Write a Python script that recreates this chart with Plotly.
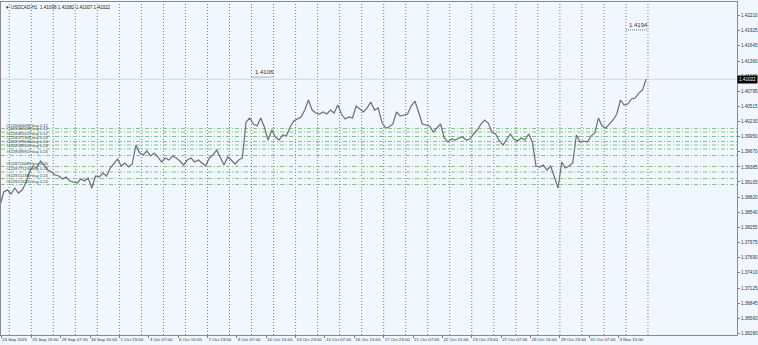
import plotly.graph_objects as go

# ---------------- data ----------------
symbol_title = "▼ USDCAD,H1  1.41008 1.41082 1.41007 1.41022"

bar_start = -34   # bar index of first sample (0 = 25 Sep 23:00)
bar_step = 4      # hours between samples
close_prices = [
    1.38674, 1.38916, 1.38953, 1.38879, 1.38991, 1.38897, 1.38953, 1.39084, 1.39290, 1.39401,
    1.39364, 1.39495, 1.39420, 1.39327, 1.39290, 1.39234, 1.39215, 1.39159, 1.39196, 1.39122,
    1.39103, 1.39084, 1.39159, 1.39122, 1.39178, 1.38991, 1.39215, 1.39196, 1.39271, 1.39215,
    1.39364, 1.39457, 1.39532, 1.39401, 1.39457, 1.39383, 1.39439, 1.39793, 1.39644, 1.39607,
    1.39681, 1.39588, 1.39644, 1.39569, 1.39476, 1.39551, 1.39513, 1.39588, 1.39551, 1.39495,
    1.39420, 1.39513, 1.39551, 1.39476, 1.39513, 1.39457, 1.39401, 1.39551, 1.39607, 1.39700,
    1.39569, 1.39420, 1.39569, 1.39513, 1.39439, 1.39513, 1.39551, 1.40222, 1.40297, 1.40185,
    1.40148, 1.40297, 1.40129, 1.39886, 1.40073, 1.39943, 1.39886, 1.39980, 1.39961, 1.40129,
    1.40241, 1.40278, 1.40316, 1.40446, 1.40633, 1.40446, 1.40390, 1.40372, 1.40409, 1.40372,
    1.40446, 1.40390, 1.40540, 1.40372, 1.40278, 1.40316, 1.40297, 1.40521, 1.40465, 1.40409,
    1.40485, 1.40595, 1.40446, 1.40485, 1.40222, 1.40110, 1.40129, 1.40185, 1.40409, 1.40334,
    1.40353, 1.40372, 1.40521, 1.40614, 1.40409, 1.40185, 1.40166, 1.40148, 1.40036, 1.40110,
    1.40185, 1.39924, 1.39849, 1.39905, 1.39886, 1.39924, 1.39943, 1.39886, 1.39905, 1.39999,
    1.40073, 1.40185, 1.40260, 1.40204, 1.40036, 1.39999, 1.39868, 1.39793, 1.39886, 1.39999,
    1.39905, 1.39868, 1.39924, 1.39886, 1.39999, 1.39849, 1.39401, 1.39383, 1.39420, 1.39327,
    1.39401, 1.39178, 1.38991, 1.39476, 1.39364, 1.39401, 1.39457, 1.39980, 1.39849, 1.39868,
    1.39849, 1.39961, 1.40017, 1.40297, 1.40148, 1.40110, 1.40185, 1.40260, 1.40372, 1.40633,
    1.40540, 1.40558, 1.40652, 1.40670, 1.40763, 1.40820, 1.41025,
]

bid_price = 1.41022

order_prices = [1.40101, 1.40036, 1.39952, 1.39859, 1.39794, 1.39719,
                1.39598, 1.39392, 1.39290, 1.39168, 1.39056]
order_labels = ["#1228466096 buy 0.12", "#1228466098 buy 0.12", "#1228461015 buy 0.12",
                "#1228572368 buy 0.24", "#1228579046 buy 0.24", "#1228589503 buy 0.24",
                "#1228589903 buy 0.24", "#1228720089 buy 0.24", "#1228771234 buy 0.24",
                "#1229152380 buy 0.24", "#1229153201 buy 0.24"]

level_prices = [1.4106, 1.4194]
level_start_bars = [240, 648]
level_end_bars = [264, 672]

tick_bars = [-32.9, 0, 32, 64, 96, 128, 160, 192, 224, 256, 288, 320, 352, 384,
             416, 448, 480, 512, 544, 576, 608, 640]
tick_labels = ["24 Sep 2025", "25 Sep 23:00", "29 Sep 07:00", "30 Sep 15:00", "1 Oct 23:00",
               "3 Oct 07:00", "6 Oct 15:00", "7 Oct 23:00", "9 Oct 07:00", "10 Oct 15:00",
               "13 Oct 23:00", "15 Oct 07:00", "16 Oct 15:00", "17 Oct 23:00", "21 Oct 07:00",
               "22 Oct 15:00", "23 Oct 23:00", "27 Oct 07:00", "28 Oct 15:00", "29 Oct 23:00",
               "31 Oct 07:00", "3 Nov 15:00"]

price_ticks = [1.42210, 1.41925, 1.41645, 1.41360, 1.41080, 1.40795, 1.40515, 1.40230,
               1.39950, 1.39670, 1.39385, 1.39105, 1.38820, 1.38540, 1.38255, 1.37975,
               1.37690, 1.37410, 1.37125, 1.36845, 1.36560, 1.36280]

# ---------------- figure ----------------
X_MIN, X_MAX = -33, 769
Y_MIN, Y_MAX = 1.36248, 1.42462
BG = "#F0F7FF"
FONT = "Liberation Sans"

bars = [bar_start + bar_step * k for k in range(len(close_prices))]

fig = go.Figure()

# vertical dotted grid (every 24 bars, only where bars exist)
for b in range(-24, bars[-1] + 3, 24):
    fig.add_shape(type="line", xref="x", yref="paper", x0=b, x1=b, y0=0, y1=1,
                  line=dict(color="#7A7A7A", width=1, dash="1px,2px"), layer="below")

# bid line
fig.add_trace(go.Scatter(x=[X_MIN, X_MAX], y=[bid_price, bid_price], mode="lines",
                         line=dict(color="#D2D6DC", width=1), hoverinfo="skip"))

# order lines
for p in order_prices:
    fig.add_trace(go.Scatter(x=[X_MIN, X_MAX], y=[p, p], mode="lines",
                             line=dict(color="#86C486", width=1, dash="4px,2px,1px,2px"),
                             hoverinfo="skip"))

# price line
fig.add_trace(go.Scatter(x=bars, y=close_prices, mode="lines",
                         line=dict(color="#6E6E6E", width=1.2)))

# level markers
for p, b0, b1 in zip(level_prices, level_start_bars, level_end_bars):
    fig.add_trace(go.Scatter(x=[b0, b1], y=[p, p], mode="lines",
                             line=dict(color="#707070", width=1, dash="1px,1px"),
                             hoverinfo="skip"))
    fig.add_annotation(x=b0, y=p, xref="x", yref="y", text=f"{p:.4f}", showarrow=False,
                       xanchor="left", yanchor="bottom", xshift=1, yshift=0,
                       font=dict(family=FONT, size=6, color="#333333"))

# order labels
for p, t in zip(order_prices, order_labels):
    fig.add_annotation(x=X_MIN, y=p, xref="x", yref="y", text=t, showarrow=False,
                       xanchor="left", yanchor="bottom", xshift=3, yshift=-1,
                       font=dict(family=FONT, size=4.1, color="#444444"))

# title
fig.add_annotation(x=0, y=1, xref="paper", yref="paper", text=symbol_title, showarrow=False,
                   xanchor="left", yanchor="top", xshift=2, yshift=-1,
                   font=dict(family=FONT, size=4.6, color="#222222"))

# current price box
fig.add_annotation(x=1, y=bid_price, xref="paper", yref="y", text=f"{bid_price:.5f}",
                   showarrow=False, xanchor="left", yanchor="middle", xshift=0,
                   bgcolor="#000000", borderpad=1,
                   font=dict(family=FONT, size=4.6, color="#FFFFFF"))

fig.update_layout(
    width=758, height=345,
    margin=dict(l=1, r=21, t=2, b=10, autoexpand=False),
    paper_bgcolor=BG, plot_bgcolor=BG,
    showlegend=False,
    xaxis=dict(range=[X_MIN, X_MAX], tickvals=tick_bars, ticktext=tick_labels,
               tickangle=0, ticks="outside", ticklen=2, tickcolor="#808080",
               ticklabelposition="outside right",
               tickfont=dict(family=FONT, size=4.4, color="#333333"),
               showgrid=False, zeroline=False, showline=True, mirror=True,
               linecolor="#8A8A8A", linewidth=1, automargin=False),
    yaxis=dict(range=[Y_MIN, Y_MAX], side="right", tickvals=price_ticks,
               ticktext=[f"{v:.5f}" for v in price_ticks],
               ticks="outside", ticklen=2, tickcolor="#808080",
               tickfont=dict(family=FONT, size=4.6, color="#333333"),
               showgrid=False, zeroline=False, showline=True, mirror=True,
               linecolor="#8A8A8A", linewidth=1, automargin=False),
)

fig.write_html("out.html")
